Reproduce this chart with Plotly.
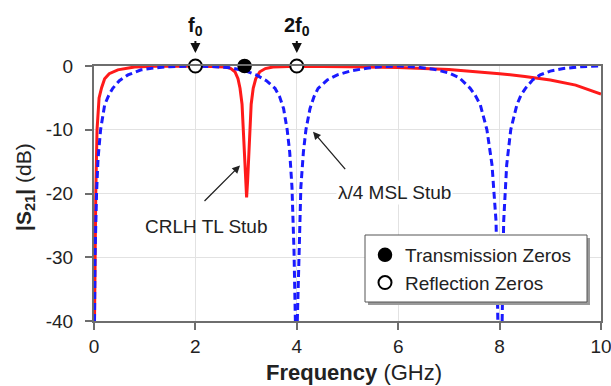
import plotly.graph_objects as go

# ---------------- data ----------------
crlh_freq = [0.01, 0.02, 0.035, 0.06, 0.10, 0.15, 0.21, 0.30, 0.47, 0.80,
             1.20, 2.00, 2.40, 2.61, 2.70, 2.78, 2.84, 2.88, 2.92, 2.95,
             2.99, 3.01, 3.03, 3.07, 3.10, 3.14, 3.19, 3.27, 3.38, 3.53,
             4.00, 5.00, 6.00, 7.00, 7.50, 8.00, 8.50, 9.00, 9.50, 10.00]
crlh_s21 = [-40, -30, -20, -10, -5, -3.4, -2, -1.2, -0.6, -0.15,
            -0.05, 0, -0.05, -0.15, -0.4, -0.9, -2, -3.5, -6, -10.3,
            -18, -20.6, -18, -10.3, -6, -3.5, -2, -0.9, -0.4, -0.15,
            -0.02, -0.1, -0.25, -0.55, -0.85, -1.2, -1.65, -2.2, -3.0, -4.4]

msl_freq = [0.01, 0.02, 0.05, 0.08, 0.13, 0.21, 0.29, 0.37, 0.50, 0.67,
            0.93, 1.20, 1.50, 2.00, 2.40, 2.70, 3.00, 3.20, 3.40, 3.57,
            3.66, 3.74, 3.81, 3.86, 3.905, 3.945, 3.972, None,
            4.01, 4.04, 4.08, 4.13, 4.18, 4.26, 4.34, 4.42, 4.60, 4.80,
            5.05, 5.38, 5.65, 6.00, 6.40, 6.70, 7.00, 7.20, 7.42, 7.52,
            7.62, 7.75, 7.85, 7.93, 7.965, None,
            8.05, 8.08, 8.14, 8.22, 8.34, 8.42, 8.51, 8.65, 8.80, 9.00,
            9.26, 9.60, 10.00]
msl_s21 = [-40, -30, -20, -14.5, -10, -6.1, -4.6, -3.5, -2.3, -1.4,
           -0.6, -0.3, -0.1, 0, -0.1, -0.3, -0.8, -1.4, -2.3, -3.5,
           -4.8, -6.7, -10, -13.5, -19, -29, -40, None,
           -40, -29, -19, -13.5, -10, -6.7, -4.8, -3.5, -2.2, -1.4,
           -0.8, -0.35, -0.1, 0, -0.2, -0.5, -1.1, -1.8, -3.5, -4.6,
           -6.1, -10, -15.5, -24.4, -40, None,
           -40, -24.4, -15.5, -10, -6.1, -4.6, -3.5, -2.2, -1.4, -0.8,
           -0.4, -0.1, 0]

trans_zero_freq = [2.97]
trans_zero_s21 = [0]
refl_zero_freq = [2.0, 4.0]
refl_zero_s21 = [0, 0]

x_ticks = [0, 2, 4, 6, 8, 10]
y_ticks = [0, -10, -20, -30, -40]
y_ticktext = ["0", "-10", "-20", "-30", "-40"]

assert len(crlh_freq) == len(crlh_s21)
assert len(msl_freq) == len(msl_s21)

# ---------------- layout helpers ----------------
W, H = 611, 386
ML, MR, MT, MB = 94, 10, 66, 65
PW, PH = W - ML - MR, H - MT - MB


def px_x(p):
    return (p - ML) / PW


def px_y(p):
    return (H - MB - p) / PH


FONT = "Liberation Sans, Arial, sans-serif"
AX = "#6e6e6e"

fig = go.Figure()

fig.add_trace(go.Scatter(x=crlh_freq, y=crlh_s21, mode="lines",
                         line=dict(color="#ff1a1a", width=3),
                         showlegend=False, cliponaxis=False, hoverinfo="skip"))
fig.add_trace(go.Scatter(x=msl_freq, y=msl_s21, mode="lines",
                         line=dict(color="#1a1aff", width=3, dash="7px,4px"),
                         connectgaps=False,
                         showlegend=False, cliponaxis=False, hoverinfo="skip"))
fig.add_trace(go.Scatter(x=trans_zero_freq, y=trans_zero_s21, mode="markers",
                         name="Transmission Zeros",
                         marker=dict(size=13, color="black",
                                     line=dict(color="black", width=1.5)),
                         cliponaxis=False))
fig.add_trace(go.Scatter(x=refl_zero_freq, y=refl_zero_s21, mode="markers",
                         name="Reflection Zeros",
                         marker=dict(size=13, color="white",
                                     line=dict(color="black", width=2)),
                         cliponaxis=False))

axis_common = dict(
    showgrid=True, gridcolor="#e2e2e2", gridwidth=1,
    showline=True, linecolor=AX, linewidth=2, mirror=True,
    ticks="outside", ticklen=7, tickwidth=2, tickcolor=AX,
    tickfont=dict(family=FONT, size=19, color="#222222"),
    zeroline=False, ticklabeloverflow="allow", automargin=False,
)

fig.update_xaxes(range=[0, 10], tickvals=x_ticks, **axis_common)
fig.update_yaxes(range=[-40, 0], tickvals=y_ticks, ticktext=y_ticktext,
                 ticklabelstandoff=8, **axis_common)

annotations = [
    # axis titles
    dict(xref="paper", yref="paper", x=px_x(354), y=px_y(372), xanchor="center",
         yanchor="middle", showarrow=False,
         text="<b>Frequency</b> (GHz)",
         font=dict(family=FONT, size=22, color="#222222")),
    dict(xref="paper", yref="paper", x=px_x(25), y=px_y(187), xanchor="center",
         yanchor="middle", showarrow=False, textangle=-90,
         text="<b>|S<sub>21</sub>|</b> (dB)",
         font=dict(family=FONT, size=21, color="#222222")),
    # f0 / 2f0 markers
    dict(xref="x", yref="paper", x=refl_zero_freq[0], y=px_y(53),
         ax=0, ay=-26, text="<b>f<sub>0</sub></b>", showarrow=True,
         arrowhead=2, arrowsize=1, arrowwidth=2, arrowcolor="#111111",
         font=dict(family=FONT, size=20, color="#111111")),
    dict(xref="x", yref="paper", x=refl_zero_freq[1], y=px_y(53),
         ax=0, ay=-26, text="<b>2f<sub>0</sub></b>", showarrow=True,
         arrowhead=2, arrowsize=1, arrowwidth=2, arrowcolor="#111111",
         font=dict(family=FONT, size=20, color="#111111")),
    # CRLH label
    dict(xref="x", yref="y", x=2.88, y=-15.6, axref="x", ayref="y",
         ax=2.15, ay=-21.4, text="", showarrow=True, arrowhead=2,
         arrowsize=1.2, arrowwidth=1.3, arrowcolor="#222222"),
    dict(xref="x", yref="y", x=2.22, y=-25.2, showarrow=False,
         text="CRLH TL Stub",
         font=dict(family=FONT, size=19, color="#222222")),
    # lambda/4 label
    dict(xref="x", yref="y", x=4.32, y=-10.3, axref="x", ayref="y",
         ax=4.98, ay=-16.4, text="", showarrow=True, arrowhead=2,
         arrowsize=1.2, arrowwidth=1.3, arrowcolor="#222222"),
    dict(xref="x", yref="y", x=5.93, y=-19.8, showarrow=False,
         text="\u03bb/4 MSL Stub", bgcolor="white",
         font=dict(family=FONT, size=19, color="#222222")),
]

# legend frame with drop shadow (legend itself is transparent on top)
LX0, LY0, LX1, LY1 = 365, 235, 587, 302
shapes = [
    dict(type="rect", xref="paper", yref="paper", layer="above",
         x0=px_x(LX0 + 3), x1=px_x(LX1 + 3), y0=px_y(LY1 + 3), y1=px_y(LY0 + 3),
         fillcolor="#9a9a9a", line=dict(width=0)),
    dict(type="rect", xref="paper", yref="paper", layer="above",
         x0=px_x(LX0), x1=px_x(LX1), y0=px_y(LY1), y1=px_y(LY0),
         fillcolor="white", line=dict(color="#555555", width=1)),
]

fig.update_layout(
    width=W, height=H,
    margin=dict(l=ML, r=MR, t=MT, b=MB, pad=0, autoexpand=False),
    paper_bgcolor="white", plot_bgcolor="white",
    font=dict(family=FONT, size=18, color="#222222"),
    annotations=annotations,
    shapes=shapes,
    legend=dict(x=px_x(LX0), y=px_y(LY0 + 1), xanchor="left", yanchor="top",
                bgcolor="rgba(0,0,0,0)", borderwidth=0,
                font=dict(family=FONT, size=19, color="#222222"),
                tracegroupgap=0, itemsizing="trace"),
    showlegend=True,
)

fig.write_html(
    "out.html",
    config={"displayModeBar": False},
    post_script="document.body.style.margin='0px';"
                "document.body.style.overflow='hidden';",
)
